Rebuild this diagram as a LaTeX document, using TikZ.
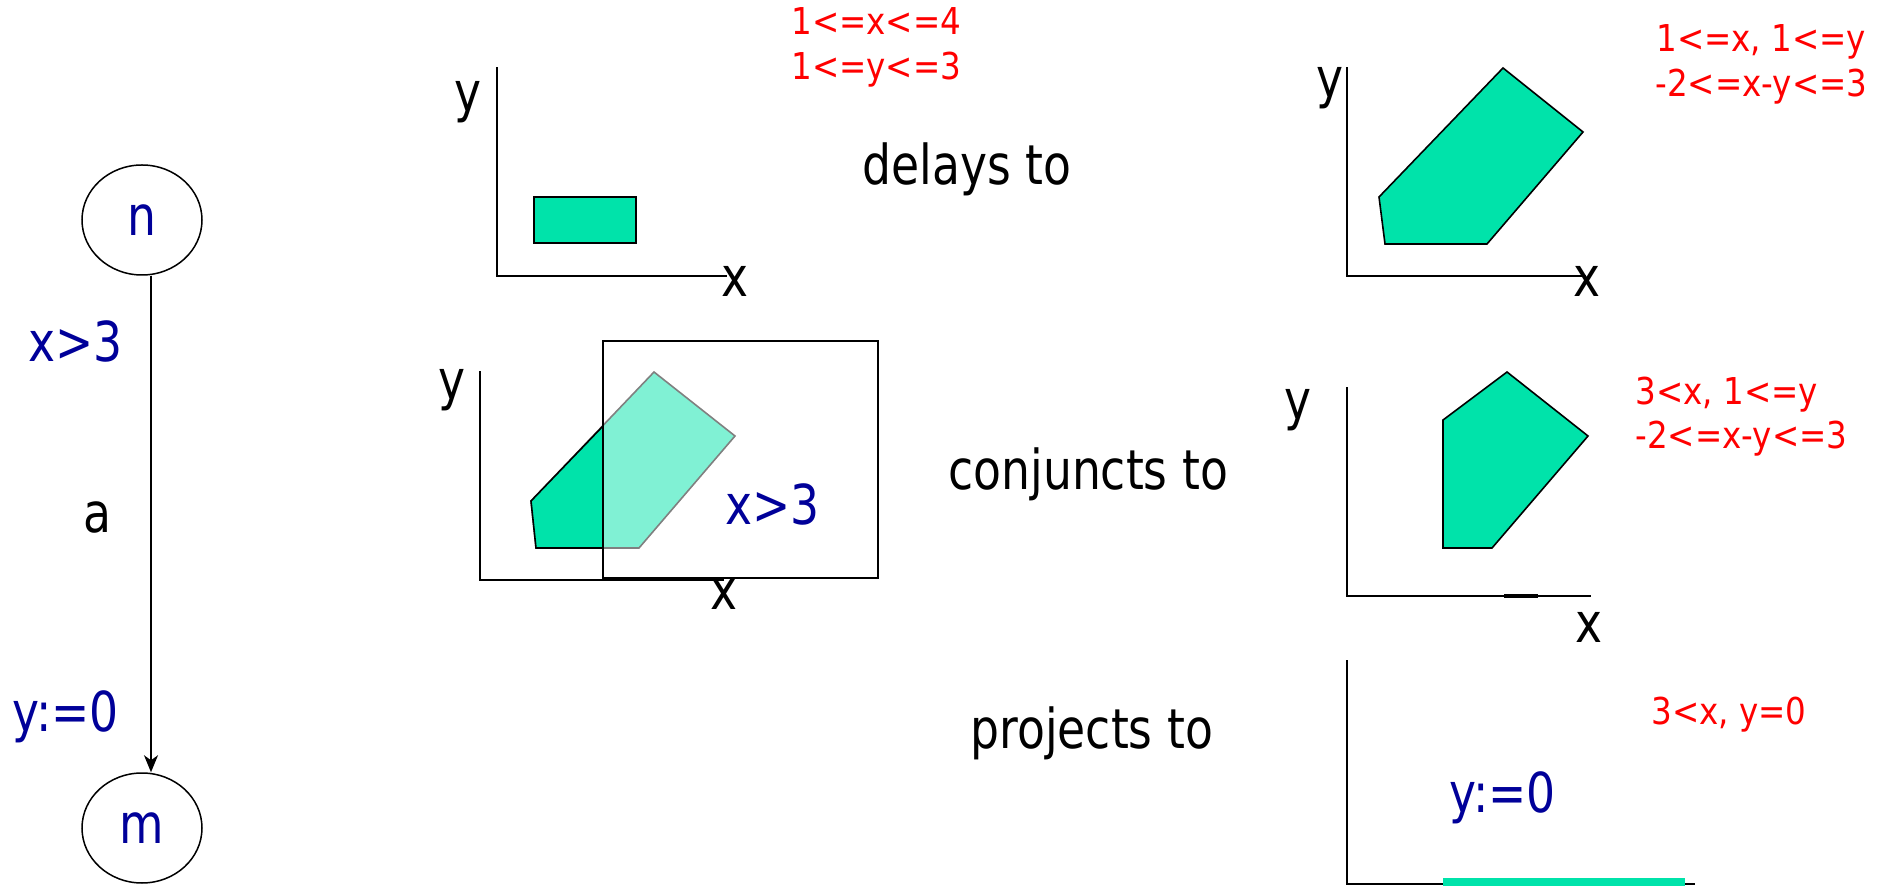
\documentclass[tikz,border=0pt]{standalone}
\usepackage{fontspec}
\setmainfont{DejaVu Sans}[FakeStretch=0.83]
\newfontfamily\constrfont{DejaVu Sans}[FakeStretch=0.88]
\usetikzlibrary{shapes.geometric,arrows.meta}
\definecolor{zone}{RGB}{0,227,170}
\definecolor{zonelight}{RGB}{128,241,212}
\definecolor{guardblue}{RGB}{0,0,153}
\definecolor{constrred}{RGB}{255,0,0}
\begin{document}
\begin{tikzpicture}[x=0.5pt,y=-0.5pt,
  bigtxt/.style={font=\fontsize{27.5pt}{33pt}\selectfont, inner sep=0pt},
  plain/.style={bigtxt, anchor=base west, text=black},
  guardtxt/.style={bigtxt, anchor=base west, text=guardblue},
  axlbl/.style={bigtxt, anchor=base, text=black},
  constr/.style={font=\constrfont\fontsize{18.5pt}{22pt}\selectfont, inner sep=0pt, anchor=base west, text=constrred},
  axis/.style={line width=0.8pt, line cap=rect},
  region/.style={fill=zone, draw=black, line width=0.8pt},
  loc/.style={ellipse, draw, line width=0.75pt, minimum width=60pt, minimum height=55pt,
    inner sep=0pt, font=\fontsize{27.5pt}{33pt}\selectfont, text=guardblue}]
\useasboundingbox (0,0) rectangle (1884,886);

% ---- automaton edge n --a--> m
\node[loc] (n) at (142,220) {n};
\node[loc] (m) at (142,828) {m};
\draw[line width=0.75pt, -{Stealth[length=8.5pt,width=7pt,inset=2.5pt]}]
  ([xshift=4.5pt]n.south) -- ([xshift=4.5pt]m.north);
\node[guardtxt] (g1) at (28,362) {x>3};
\node[plain] (act) at (83,533) {a};
\node[guardtxt] (r1) at (12,732) {y:=0};

% ---- zone before delay
\draw[axis] (497,68) -- (497,276) -- (726,276);
\node[axlbl] (y1) at (468,112) {y};
\node[axlbl] (x1) at (735,297) {x};
\draw[region] (534,197) rectangle (636,243);
\node[constr] (c1a) at (791,35) {1<=x<=4};
\node[constr] (c1b) at (791,80) {1<=y<=3};
\node[plain] (t1) at (862,185) {delays to};

% ---- zone after delay
\draw[axis] (1347,68) -- (1347,276) -- (1585,276);
\node[axlbl] (y2) at (1330,98) {y};
\node[axlbl] (x2) at (1587,297) {x};
\draw[region] (1379,197) -- (1503,68) -- (1583,132) -- (1487,244) -- (1385,244) -- cycle;
\node[constr] (c2a) at (1656,52) {1<=x, 1<=y};
\node[constr] (c2b) at (1655,97) {-2<=x-y<=3};

% ---- intersection with the guard
\draw[axis] (480,372) -- (480,580) -- (723,580);
\node[axlbl] (y3) at (452,400) {y};
\node[axlbl] (x3) at (724,610) {x};
\draw[fill=zonelight, draw=black!50, line width=0.8pt]
  (531,501) -- (654,372) -- (735,436) -- (639,548) -- (536,548) -- cycle;
\fill[zone] (531,501) -- (603,426) -- (603,548) -- (536,548) -- cycle;
\draw[line width=0.8pt] (603,426) -- (531,501) -- (536,548) -- (603,548);
\draw[line width=0.8pt] (603,341) rectangle (878,578);
\node[guardtxt] (g2) at (725,525) {x>3};
\node[plain] (t2) at (948,490) {conjuncts to};

% ---- zone after the guard
\draw[axis] (1347,388) -- (1347,596) -- (1590,596);
\draw[line width=1.6pt] (1504,596) -- (1538,596);
\node[axlbl] (y4) at (1298,420) {y};
\node[axlbl] (x4) at (1589,643) {x};
\draw[region] (1443,420) -- (1507,372) -- (1588,436) -- (1492,548) -- (1443,548) -- cycle;
\node[constr] (c3a) at (1635,405) {3<x, 1<=y};
\node[constr] (c3b) at (1635,449) {-2<=x-y<=3};

% ---- reset of y
\node[plain] (t3) at (970,748) {projects to};
\draw[axis] (1347,661) -- (1347,884) -- (1694,884);
\fill[zone] (1443,878) rectangle (1685,886);
\node[guardtxt] (r2) at (1449,812) {y:=0};
\node[constr] (c4) at (1651,725) {3<x, y=0};
\end{tikzpicture}
\end{document}
